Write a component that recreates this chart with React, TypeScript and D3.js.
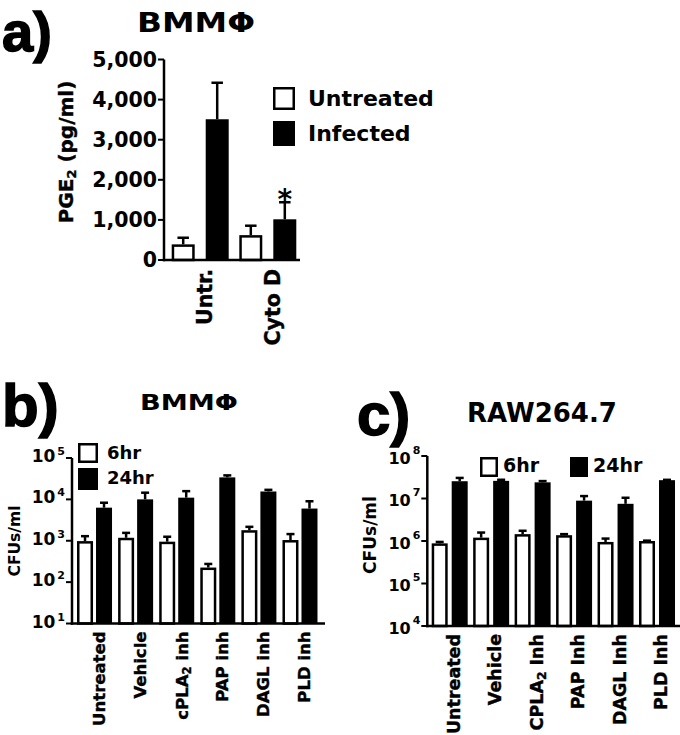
import React from 'react';
import * as d3 from 'd3';

// ---------- Panel a data ----------
const groupsA = ['Untr.', 'Cyto D'];
const seriesA = ['Untreated', 'Infected'];
const untreatedMeanA = [390, 620];
const untreatedSemA = [165, 235];
const infectedMeanA = [3510, 1015];
const infectedSemA = [910, 425];
const infectedSigA = ['', '*'];
const yTicksA = [0, 1000, 2000, 3000, 4000, 5000];

// ---------- Panel b data ----------
const groupsB = ['Untreated', 'Vehicle', 'cPLA2 inh', 'PAP inh', 'DAGL inh', 'PLD inh'];
const seriesBC = ['6hr', '24hr'];
const sixHrMeanB = [980, 1180, 950, 225, 1800, 1040];
const sixHrSemB = [310, 370, 300, 50, 370, 410];
const dayMeanB = [6300, 10000, 11000, 34000, 15500, 6000];
const daySemB = [2000, 4500, 4800, 4000, 1500, 3000];
const yExpB = [1, 2, 3, 4, 5];

// ---------- Panel c data ----------
const groupsC = ['Untreated', 'Vehicle', 'CPLA2 Inh', 'PAP Inh', 'DAGL Inh', 'PLD Inh'];
const sixHrMeanC = [880000, 1200000, 1450000, 1370000, 950000, 1000000];
const sixHrSemC = [70000, 380000, 290000, 80000, 190000, 20000];
const dayMeanC = [25500000, 26000000, 24000000, 8900000, 7500000, 27000000];
const daySemC = [5000000, 1600000, 1700000, 2500000, 2900000, 500000];
const yExpC = [4, 5, 6, 7, 8];

const FONT = "'DejaVu Sans', 'Liberation Sans', sans-serif";
const LETTER_FONT = "'Liberation Sans', Arial, sans-serif";
const SW = 2.5;

function subLabel(label: string) {
  const i = label.indexOf('PLA2');
  if (i < 0) return label;
  return [
    <tspan key="a">{label.slice(0, i + 3)}</tspan>,
    <tspan key="b" dy={5} fontSize="0.7em">2</tspan>,
    <tspan key="c" dy={-5}>{label.slice(i + 4)}</tspan>,
  ];
}

function Bars({ groups, series, means, sems, x, xi, y, yBase }: any) {
  const out: any[] = [];
  groups.forEach((g: string, gi: number) => {
    series.forEach((s: string, si: number) => {
      const m = means[si][gi];
      const e = sems[si][gi];
      const bx = x(g) + xi(s);
      const bw = xi.bandwidth();
      const top = y(m);
      const eTop = y(m + e);
      const cx = bx + bw / 2;
      const cap = bw * 0.5;
      out.push(
        <g key={g + s}>
          <line x1={cx} x2={cx} y1={top} y2={eTop} stroke="#000" strokeWidth={SW} />
          <line x1={cx - cap / 2} x2={cx + cap / 2} y1={eTop} y2={eTop} stroke="#000" strokeWidth={SW} />
          {si === 1 ? (
            <rect x={bx} y={top} width={bw} height={yBase - top} fill="#000" />
          ) : (
            <rect x={bx + SW / 2} y={top + SW / 2} width={bw - SW} height={yBase - top - SW / 2} fill="#fff" stroke="#000" strokeWidth={SW} />
          )}
        </g>
      );
    });
  });
  return <g>{out}</g>;
}

function LogPanel({ groups, means, sems, exps, axisX, axisEnd, xRange, yRange, pInner, pOuter, innerPad, tickFont, supDy, baseDy, labelFont, labelOffset }: any) {
  const x = d3.scaleBand<string>().domain(groups).range(xRange).paddingInner(pInner).paddingOuter(pOuter);
  const xi = d3.scaleBand<string>().domain(seriesBC).range([0, x.bandwidth()]).paddingInner(innerPad);
  const y = d3.scaleLog().domain([Math.pow(10, exps[0]), Math.pow(10, exps[exps.length - 1])]).range(yRange);
  const yBase = yRange[0];
  return (
    <g>
      <Bars groups={groups} series={seriesBC} means={means} sems={sems} x={x} xi={xi} y={y} yBase={yBase} />
      <line x1={axisX} x2={axisX} y1={yRange[0] + SW / 2} y2={yRange[1]} stroke="#000" strokeWidth={SW} />
      <line x1={axisX - SW / 2} x2={axisEnd} y1={yBase} y2={yBase} stroke="#000" strokeWidth={SW} />
      {exps.map((e: number) => {
        const ty = y(Math.pow(10, e));
        return (
          <g key={e}>
            <line x1={axisX - 6} x2={axisX} y1={ty} y2={ty} stroke="#000" strokeWidth={2} />
            <text x={axisX - 7} y={ty + baseDy} textAnchor="end" fontFamily={FONT} fontWeight="bold" fontSize={tickFont}>
              10<tspan dx={2} dy={supDy} fontSize={11}>{e}</tspan>
            </text>
          </g>
        );
      })}
      {groups.map((g: string) => {
        const cx = (x(g) as number) + x.bandwidth() / 2 + labelOffset;
        const ty = yBase + 8;
        return (
          <text key={g} transform={`translate(${cx},${ty}) rotate(-90)`} textAnchor="end" dominantBaseline="central"
            fontFamily={FONT} fontWeight="bold" fontSize={labelFont} stroke="#000" strokeWidth={0.4}>
            {subLabel(g)}
          </text>
        );
      })}
    </g>
  );
}

function PanelA() {
  const x = d3.scaleBand<string>().domain(groupsA).range([164, 304]).paddingInner(0.157).paddingOuter(0.114);
  const xi = d3.scaleBand<string>().domain(seriesA).range([0, x.bandwidth()]).paddingInner(0.324);
  const y = d3.scaleLinear().domain([0, 5000]).range([260, 59.5]);
  const fmt = d3.format(',');
  const means = [untreatedMeanA, infectedMeanA];
  const sems = [untreatedSemA, infectedSemA];
  return (
    <g>
      <Bars groups={groupsA} series={seriesA} means={means} sems={sems} x={x} xi={xi} y={y} yBase={y(0)} />
      {groupsA.map((g, gi) => infectedSigA[gi] ? (
        <text key={'s' + g} x={(x(g) as number) + (xi('Infected') as number) + xi.bandwidth() / 2}
          y={y(infectedMeanA[gi] + infectedSemA[gi]) + 7} textAnchor="middle" fontFamily={FONT} fontWeight="bold" fontSize={28}>
          {infectedSigA[gi]}
        </text>
      ) : null)}
      <line x1={164} x2={164} y1={y(0) + SW / 2} y2={y(5000)} stroke="#000" strokeWidth={SW} />
      <line x1={164 - SW / 2} x2={300} y1={y(0)} y2={y(0)} stroke="#000" strokeWidth={SW} />
      {yTicksA.map(t => (
        <g key={t}>
          <line x1={158} x2={164} y1={y(t)} y2={y(t)} stroke="#000" strokeWidth={2} />
          <text x={157} y={y(t)} dy="0.36em" textAnchor="end" fontFamily={FONT} fontWeight="bold" fontSize={20.5}>{fmt(t)}</text>
        </g>
      ))}
      {groupsA.map(g => (
        <text key={g} transform={`translate(${(x(g) as number) + x.bandwidth() / 2 + 5},${y(0) + 9}) rotate(-90)`}
          textAnchor="end" dominantBaseline="central" fontFamily={FONT} fontWeight="bold" fontSize={20.5} stroke="#000" strokeWidth={0.4}>{g}</text>
      ))}
      <text transform="translate(66,152) rotate(-90)" textAnchor="middle" dominantBaseline="central"
        fontFamily={FONT} fontWeight="bold" fontSize={20} stroke="#000" strokeWidth={0.4}>
        PGE<tspan dy={5} fontSize={13}>2</tspan><tspan dy={-5}> (pg/ml)</tspan>
      </text>
      {/* legend */}
      <rect x={273 + SW / 2} y={87 + SW / 2} width={22 - SW} height={23 - SW} fill="#fff" stroke="#000" strokeWidth={SW} />
      <rect x={273} y={121} width={22} height={25} fill="#000" />
      <text x={308} y={106} fontFamily={FONT} fontWeight="bold" fontSize={22}>{seriesA[0]}</text>
      <text x={308} y={141} fontFamily={FONT} fontWeight="bold" fontSize={22}>{seriesA[1]}</text>
      <text x={2} y={51} fontFamily={LETTER_FONT} fontWeight="bold" fontSize={56} stroke="#000" strokeWidth={1.5}>a)</text>
      <text x={137} y={32} fontFamily={FONT} fontWeight="bold" fontSize={26} textLength={118} lengthAdjust="spacingAndGlyphs">BMMΦ</text>
    </g>
  );
}

export default function App() {
  return (
    <svg width={680} height={735} style={{ position: 'absolute', left: 0, top: 0, background: '#fff' }}>
      <rect x={0} y={0} width={680} height={735} fill="#fff" />
      <PanelA />
      {/* Panel b */}
      <LogPanel groups={groupsB} means={[sixHrMeanB, dayMeanB]} sems={[sixHrSemB, daySemB]} exps={yExpB}
        axisX={72} axisEnd={325} xRange={[72, 322.5]} yRange={[623.5, 458]} pInner={0.148} pOuter={0.122} innerPad={0.158}
        tickFont={17} supDy={-7} baseDy={4} labelFont={16.5} labelOffset={5} />
      <text transform="translate(15,541) rotate(-90)" textAnchor="middle" dominantBaseline="central"
        fontFamily={FONT} fontWeight="bold" fontSize={15.5}>CFUs/ml</text>
      <rect x={78 + SW / 2} y={443 + SW / 2} width={20 - SW} height={20 - SW} fill="#fff" stroke="#000" strokeWidth={SW} />
      <rect x={78} y={468} width={20} height={22} fill="#000" />
      <text x={107} y={459} fontFamily={FONT} fontWeight="bold" fontSize={18}>{seriesBC[0]}</text>
      <text x={107} y={484} fontFamily={FONT} fontWeight="bold" fontSize={18}>{seriesBC[1]}</text>
      <text x={2} y={425.5} fontFamily={LETTER_FONT} fontWeight="bold" fontSize={60} stroke="#000" strokeWidth={1.5}>b)</text>
      <text x={140} y={410} fontFamily={FONT} fontWeight="bold" fontSize={21} textLength={98} lengthAdjust="spacingAndGlyphs">BMMΦ</text>

      {/* Panel c */}
      <LogPanel groups={groupsC} means={[sixHrMeanC, dayMeanC]} sems={[sixHrSemC, daySemC]} exps={yExpC}
        axisX={427.3} axisEnd={680} xRange={[427.3, 679.4]} yRange={[626, 456]} pInner={0.132} pOuter={0.106} innerPad={0.2}
        tickFont={16} supDy={-10} baseDy={7.5} labelFont={17.5} labelOffset={4} />
      <text transform="translate(370,535) rotate(-90)" textAnchor="middle" dominantBaseline="central"
        fontFamily={FONT} fontWeight="bold" fontSize={17}>CFUs/ml</text>
      <rect x={480 + SW / 2} y={457 + SW / 2} width={18 - SW} height={20 - SW} fill="#fff" stroke="#000" strokeWidth={SW} />
      <rect x={570} y={457} width={18} height={20} fill="#000" />
      <text x={503} y={472} fontFamily={FONT} fontWeight="bold" fontSize={19}>{seriesBC[0]}</text>
      <text x={593} y={472} fontFamily={FONT} fontWeight="bold" fontSize={19}>{seriesBC[1]}</text>
      <text x={357} y={435} fontFamily={LETTER_FONT} fontWeight="bold" fontSize={60} stroke="#000" strokeWidth={1.5}>c)</text>
      <text x={467} y={421.7} fontFamily={FONT} fontWeight="bold" fontSize={26}>RAW264.7</text>
    </svg>
  );
}
